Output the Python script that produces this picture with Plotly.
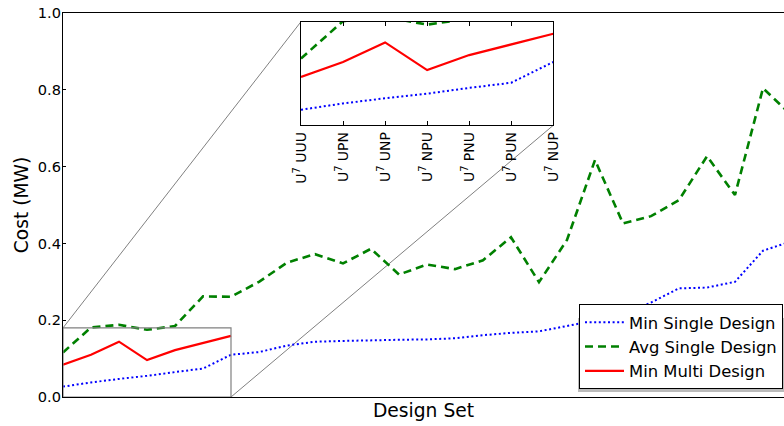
import plotly.graph_objects as go

# ---- data ----
design_index = list(range(27))
min_single = [0.027, 0.038, 0.047, 0.055, 0.065, 0.074, 0.110, 0.117, 0.134, 0.144,
              0.146, 0.148, 0.149, 0.150, 0.153, 0.161, 0.167, 0.171, 0.185, 0.198,
              0.213, 0.246, 0.283, 0.285, 0.300, 0.381, 0.405]
avg_single = [0.116, 0.181, 0.188, 0.175, 0.185, 0.262, 0.261, 0.300, 0.350, 0.372,
              0.348, 0.386, 0.319, 0.345, 0.333, 0.356, 0.416, 0.299, 0.409, 0.617,
              0.452, 0.471, 0.513, 0.627, 0.526, 0.804, 0.735]
multi_index = list(range(7))
min_multi = [0.084, 0.110, 0.144, 0.096, 0.122, 0.141, 0.159]
inset_labels = ["U<sup>7</sup> UUU", "U<sup>7</sup> UPN", "U<sup>7</sup> UNP",
                "U<sup>7</sup> NPU", "U<sup>7</sup> PNU", "U<sup>7</sup> PUN",
                "U<sup>7</sup> NUP"]
y_ticks = [0.0, 0.2, 0.4, 0.6, 0.8, 1.0]

# ---- layout constants ----
W, H = 784, 426
ML, MR, MT, MB = 63, 0, 13, 29
PW, PH = W - ML - MR, H - MT - MB
X_RANGE = [0, 25.75]
Y_RANGE = [0, 1.0]
INSET_X = [0, 6]
INSET_Y = [0, 0.18]
inset_dom_x = [(301 - ML) / PW, (553.3 - ML) / PW]
inset_dom_y = [(H - MB - 125.3) / PH, (H - MB - 21.7) / PH]

FONT = "DejaVu Sans"
BLUE, GREEN, RED = "rgb(0,0,255)", "rgb(0,128,0)", "rgb(255,0,0)"
GRAY = "rgb(128,128,128)"
TICK_SIZE = 14.6
INSET_TICK_SIZE = 14
TITLE_SIZE = 18.7
LEGEND_SIZE = 16.4

blue_line = dict(color=BLUE, width=2, dash="2px,2.6px")
green_line = dict(color=GREEN, width=2.6, dash="8px,5px")
red_line = dict(color=RED, width=2.2)

fig = go.Figure()

# main axes
fig.add_trace(go.Scatter(x=design_index, y=min_single, mode="lines", name="Min Single Design",
                         line=blue_line, legendgroup="a"))
fig.add_trace(go.Scatter(x=design_index, y=avg_single, mode="lines", name="Avg Single Design",
                         line=green_line, legendgroup="b"))
fig.add_trace(go.Scatter(x=multi_index, y=min_multi, mode="lines", name="Min Multi Design",
                         line=red_line, legendgroup="c"))

# inset axes
fig.add_trace(go.Scatter(x=design_index, y=min_single, mode="lines", line=blue_line,
                         xaxis="x2", yaxis="y2", showlegend=False))
fig.add_trace(go.Scatter(x=design_index, y=avg_single, mode="lines", line=green_line,
                         xaxis="x2", yaxis="y2", showlegend=False))
fig.add_trace(go.Scatter(x=multi_index, y=min_multi, mode="lines", line=red_line,
                         xaxis="x2", yaxis="y2", showlegend=False))


def px_main(xv):
    return (xv - X_RANGE[0]) / (X_RANGE[1] - X_RANGE[0])


def py_main(yv):
    return (yv - Y_RANGE[0]) / (Y_RANGE[1] - Y_RANGE[0])


# legend box (pixels) for shadow
LEG_L, LEG_R, LEG_T, LEG_B = 575, 783, 312, 389

shapes = [
    # zoom rectangle on main axes
    dict(type="rect", xref="x", yref="y", x0=INSET_X[0], x1=INSET_X[1],
         y0=INSET_Y[0], y1=INSET_Y[1], line=dict(color=GRAY, width=1.2), layer="above"),
    # connectors
    dict(type="line", xref="paper", yref="paper",
         x0=px_main(INSET_X[0]), y0=py_main(INSET_Y[1]),
         x1=inset_dom_x[0], y1=inset_dom_y[1], line=dict(color=GRAY, width=1), layer="below"),
    dict(type="line", xref="paper", yref="paper",
         x0=px_main(INSET_X[1]), y0=py_main(INSET_Y[0]),
         x1=inset_dom_x[1], y1=inset_dom_y[0], line=dict(color=GRAY, width=1), layer="below"),
    # legend shadow
    dict(type="rect", xref="paper", yref="paper",
         x0=(LEG_L + 3 - ML) / PW, x1=(LEG_R + 3 - ML) / PW,
         y0=(H - MB - (LEG_B + 3)) / PH, y1=(H - MB - (LEG_T + 6)) / PH,
         fillcolor="rgba(120,120,120,0.5)", line=dict(width=0), layer="above"),
]

fig.update_layout(
    width=W, height=H,
    margin=dict(l=ML, r=MR, t=MT, b=MB, pad=0, autoexpand=False),
    paper_bgcolor="white", plot_bgcolor="white",
    font=dict(family=FONT, color="black", size=TICK_SIZE),
    showlegend=True,
    legend=dict(x=(LEG_R - ML) / PW, y=(H - MB - LEG_B) / PH,
                xanchor="right", yanchor="bottom",
                bgcolor="white", bordercolor="black", borderwidth=1,
                itemwidth=39,
                font=dict(family=FONT, size=LEGEND_SIZE), tracegroupgap=0),
    xaxis=dict(range=X_RANGE, showticklabels=False, ticks="", showgrid=False, zeroline=False,
               showline=True, linecolor="black", linewidth=1.2, mirror=True, automargin=False,
               title=dict(text="Design Set", font=dict(size=TITLE_SIZE), standoff=6)),
    yaxis=dict(range=Y_RANGE, tickvals=y_ticks, tickformat=".1f", ticks="inside", ticklen=3,
               tickcolor="black", showgrid=False, zeroline=False, automargin=False,
               showline=True, linecolor="black", linewidth=1.2, mirror=False,
               tickfont=dict(size=TICK_SIZE), ticklabelstandoff=-2,
               title=dict(text="Cost (MW)", font=dict(size=TITLE_SIZE), standoff=4)),
    xaxis2=dict(domain=inset_dom_x, anchor="y2", range=INSET_X, tickvals=multi_index,
                ticktext=inset_labels, tickangle=-90, ticks="inside", ticklen=4,
                tickcolor="black", showgrid=False, zeroline=False, automargin=False,
                showline=True, linecolor="black", linewidth=1.2, mirror="allticks",
                tickfont=dict(size=INSET_TICK_SIZE)),
    yaxis2=dict(domain=inset_dom_y, anchor="x2", range=INSET_Y, showticklabels=False,
                ticks="", showgrid=False, zeroline=False, automargin=False,
                showline=True, linecolor="black", linewidth=1.2, mirror=True),
    shapes=shapes,
)

fig.write_html(
    "out.html",
    config={"displayModeBar": False},
    post_script="document.body.style.margin='0px';document.body.style.overflow='hidden';",
)
